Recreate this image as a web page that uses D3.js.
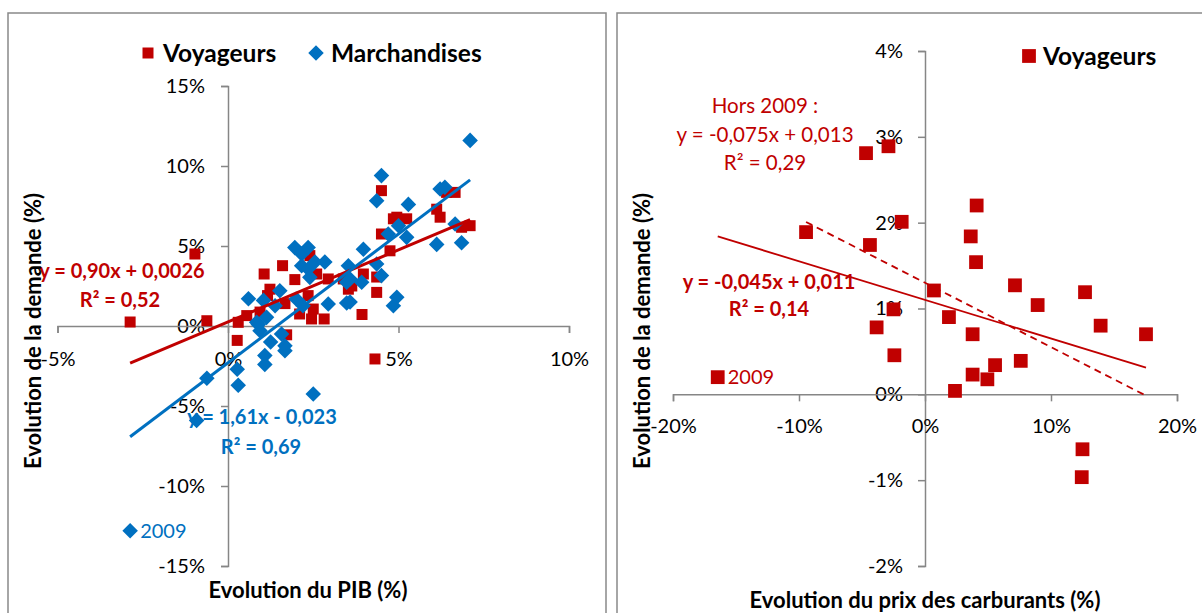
<!DOCTYPE html>
<html><head><meta charset="utf-8">
<script src="https://cdn.jsdelivr.net/npm/d3@7/dist/d3.min.js"></script>
<style>body{margin:0;background:#fff}svg{display:block;font-family:Lato,"Open Sans",sans-serif}</style>
</head><body><svg id="c" width="1202" height="613"></svg>
<script>
// ---- Data (values in %) ----
const pibVoyageurs = [
 [-2.87,0.25],[-0.97,4.5],[-0.62,0.33],[0.27,-0.9],[0.3,0.23],[0.55,0.65],[0.94,0.87],[1.06,3.25],
 [1.16,1.9],[1.23,2.3],[1.6,3.77],[1.67,1.4],[1.72,-0.55],[1.96,2.9],[2.1,0.75],[2.35,1.9],[2.4,4.4],
 [2.45,0.44],[2.5,1.06],[2.6,3.25],[2.82,0.44],[2.94,2.94],[3.38,2.94],[3.53,2.3],[3.63,2.5],[3.93,0.72],
 [3.97,3.25],[4.31,-2.06],[4.36,2.1],[4.36,3.06],[4.5,5.75],[4.5,8.46],[4.75,4.7],[4.85,6.7],[4.95,6.8],
 [5.24,6.7],[6.12,7.3],[6.22,6.8],[6.41,8.35],[6.66,8.35],[6.85,6.17],[7.1,6.27]
];
const pibMarchandises = [
 [-0.92,-5.9],[-0.62,-3.27],[0.27,-2.7],[0.3,-3.7],[0.6,1.7],[0.84,0.23],[0.89,0.1],[0.94,-0.3],
 [1.04,1.6],[1.08,-1.85],[1.08,-2.4],[1.13,0.54],[1.25,-1.0],[1.38,1.27],[1.52,2.2],[1.57,-0.5],
 [1.67,-1.23],[1.67,-1.54],[1.96,4.9],[2.16,4.5],[2.35,4.9],[2.16,3.77],[2.35,3.56],[2.55,4.0],
 [2.4,3.04],[2.84,4.0],[2.0,1.69],[2.2,1.27],[2.5,-4.25],[2.94,1.375],[3.48,1.44],[3.53,3.77],
 [3.58,2.94],[3.48,2.73],[3.92,2.73],[3.97,4.8],[4.36,3.875],[4.5,3.15],[4.36,7.83],[4.5,9.4],
 [4.7,5.75],[4.85,1.27],[4.95,1.8],[5.0,6.27],[5.24,5.54],[5.29,7.6],[6.12,5.1],[6.22,8.56],
 [6.36,8.67],[6.66,6.375],[6.85,5.2],[7.1,11.6],[3.58,1.5]
];
const pibMarchandises2009 = [-2.87,-12.8];
const carbVoyageurs = [
 [-9.44,1.89],[-4.68,2.81],[-4.37,1.74],[-3.84,0.78],[-2.9,2.89],[-2.5,0.99],[-2.43,0.455],[-1.85,2.01],
 [0.71,1.21],[1.9,0.9],[2.38,0.04],[3.63,1.84],[3.78,0.7],[3.78,0.23],[4.05,1.54],[4.1,2.2],[4.95,0.175],
 [5.56,0.34],[7.14,1.27],[7.6,0.39],[8.94,1.04],[12.44,-0.965],[12.5,-0.64],[12.7,1.19],[13.94,0.8],[17.54,0.7]
];
const carbVoyageurs2009 = [-16.45,0.2];
const pibTicksX = [-5,0,5,10];
const pibTicksY = [-15,-10,-5,0,5,10,15];
const carbTicksX = [-20,-10,0,10,20];
const carbTicksY = [-2,-1,0,1,2,3,4];
// trendlines: [slope, intercept] (fractional form, as in the equations)
const trendPibVoy = [0.90, 0.0026];
const trendPibMar = [1.61, -0.023];
const trendCarbAll = [-0.045, 0.011];
const trendCarbHors = [-0.075, 0.013];
const seriesNames = ["Voyageurs","Marchandises"];

const RED = "#C00000", BLUE = "#0070C0", AX = "#868686";
const svg = d3.select("#c");

// panel frames
svg.append("rect").attr("x",8).attr("y",13).attr("width",598).attr("height",620).attr("fill","none").attr("stroke","#898989").attr("stroke-width",1.5);
svg.append("rect").attr("x",617).attr("y",13).attr("width",620).attr("height",620).attr("fill","none").attr("stroke","#898989").attr("stroke-width",1.5);

function styleAxis(g){
  g.select(".domain").attr("stroke",AX).attr("stroke-width",1.5);
  g.selectAll(".tick line").attr("stroke",AX).attr("stroke-width",1.5);
  g.selectAll("text").attr("font-size",20).attr("fill","#000").attr("font-family","Lato");
}
const pct = d => d + "%";
const sq = d3.symbol().type(d3.symbolSquare);

// ===== Left chart =====
const xL = d3.scaleLinear().domain([-5,10]).range([57.5,569]);
const yL = d3.scaleLinear().domain([-15,15]).range([566,86]);
const gL = svg.append("g");
const axYL = gL.append("g").attr("transform",`translate(${xL(0)},0)`)
  .call(d3.axisLeft(yL).tickValues(pibTicksY).tickSize(7).tickPadding(16).tickFormat(pct));
styleAxis(axYL);
const axXL = gL.append("g").attr("transform",`translate(0,${yL(0)})`)
  .call(d3.axisBottom(xL).tickValues(pibTicksX).tickSize(7).tickFormat(pct));
styleAxis(axXL);
axXL.selectAll("text").attr("y",33).attr("dy","0.35em");

// red equation label
gL.append("text").attr("x",122).attr("y",271).attr("dy","0.35em").attr("text-anchor","middle")
  .attr("font-size",20).attr("font-weight","bold").attr("fill",RED).text("y = 0,90x + 0,0026");
gL.append("text").attr("x",120).attr("y",300).attr("dy","0.35em").attr("text-anchor","middle")
  .attr("font-size",20).attr("font-weight","bold").attr("fill",RED).text("R² = 0,52");

gL.append("g").selectAll("path").data(pibVoyageurs).join("path")
  .attr("d",sq.size(121)()).attr("transform",d=>`translate(${xL(d[0])},${yL(d[1])})`).attr("fill",RED);
const marAll = pibMarchandises.concat([pibMarchandises2009]);
gL.append("g").selectAll("path").data(marAll).join("path")
  .attr("d",sq.size(121)()).attr("transform",d=>`translate(${xL(d[0])},${yL(d[1])}) rotate(45)`).attr("fill",BLUE);

function trend(g,xs,ys,data,coef,color,w,dash){
  const ext = d3.extent(data,d=>d[0]);
  const pts = ext.map(x=>[x, coef[0]*x + coef[1]*100]);
  g.append("path").attr("d",d3.line().x(d=>xs(d[0])).y(d=>ys(d[1]))(pts))
    .attr("stroke",color).attr("stroke-width",w).attr("fill","none").attr("stroke-dasharray",dash||null);
}
trend(gL,xL,yL,pibVoyageurs,trendPibVoy,RED,3);
trend(gL,xL,yL,marAll,trendPibMar,BLUE,3);

gL.append("text").attr("x",262).attr("y",417).attr("dy","0.35em").attr("text-anchor","middle")
  .attr("font-size",20).attr("font-weight","bold").attr("fill",BLUE).text("y = 1,61x - 0,023");
gL.append("text").attr("x",261).attr("y",447).attr("dy","0.35em").attr("text-anchor","middle")
  .attr("font-size",20).attr("font-weight","bold").attr("fill",BLUE).text("R² = 0,69");
gL.append("text").attr("x",xL(pibMarchandises2009[0])+10).attr("y",yL(pibMarchandises2009[1])).attr("dy","0.35em")
  .attr("font-size",20).attr("fill",BLUE).text("2009");

// axis titles
gL.append("text").attr("transform","translate(33,331) rotate(-90)").attr("text-anchor","middle").attr("dy","0.35em")
  .attr("font-size",22).attr("font-weight","bold").attr("fill","#000").text("Evolution de la demande (%)");
gL.append("text").attr("x",308).attr("y",590).attr("dy","0.35em").attr("text-anchor","middle")
  .attr("font-size",22).attr("font-weight","bold").attr("fill","#000").text("Evolution du PIB (%)");

// legend
gL.append("path").attr("d",sq.size(121)()).attr("transform","translate(148,53)").attr("fill",RED);
gL.append("text").attr("x",163).attr("y",53).attr("dy","0.35em").attr("font-size",24.5).attr("font-weight","bold").text(seriesNames[0]);
gL.append("path").attr("d",sq.size(121)()).attr("transform","translate(316,53) rotate(45)").attr("fill",BLUE);
gL.append("text").attr("x",331).attr("y",53).attr("dy","0.35em").attr("font-size",24.5).attr("font-weight","bold").text(seriesNames[1]);

// ===== Right chart =====
const xR = d3.scaleLinear().domain([-20,20]).range([673,1177]);
const yR = d3.scaleLinear().domain([-2,4]).range([566,51]);
const gR = svg.append("g");
const axYR = gR.append("g").attr("transform",`translate(${xR(0)},0)`)
  .call(d3.axisLeft(yR).tickValues(carbTicksY).tickSize(7).tickPadding(15).tickFormat(pct));
styleAxis(axYR);
const axXR = gR.append("g").attr("transform",`translate(0,${yR(0)})`)
  .call(d3.axisBottom(xR).tickValues(carbTicksX).tickSize(7).tickFormat(pct));
styleAxis(axXR);
axXR.selectAll("text").attr("y",32).attr("dy","0.35em");

const carbAll = [carbVoyageurs2009].concat(carbVoyageurs);
gR.append("g").selectAll("path").data(carbAll).join("path")
  .attr("d",sq.size(190)()).attr("transform",d=>`translate(${xR(d[0])},${yR(d[1])})`).attr("fill",RED);
trend(gR,xR,yR,carbAll,trendCarbAll,RED,1.8);
trend(gR,xR,yR,carbVoyageurs,trendCarbHors,RED,1.8,"7,5");

gR.append("text").attr("x",xR(carbVoyageurs2009[0])+10).attr("y",yR(carbVoyageurs2009[1])).attr("dy","0.35em")
  .attr("font-size",20).attr("fill",RED).text("2009");

const horsLines = ["Hors 2009 :","y = -0,075x + 0,013","R² = 0,29"];
gR.append("g").selectAll("text").data(horsLines).join("text")
  .attr("x",765).attr("y",(d,i)=>106+i*28.5).attr("dy","0.35em").attr("text-anchor","middle")
  .attr("font-size",20.5).attr("fill",RED).text(d=>d);
gR.append("text").attr("x",769).attr("y",282).attr("dy","0.35em").attr("text-anchor","middle")
  .attr("font-size",20).attr("font-weight","bold").attr("fill",RED).text("y = -0,045x + 0,011");
gR.append("text").attr("x",769).attr("y",309).attr("dy","0.35em").attr("text-anchor","middle")
  .attr("font-size",20).attr("font-weight","bold").attr("fill",RED).text("R² = 0,14");

gR.append("text").attr("transform","translate(642,331) rotate(-90)").attr("text-anchor","middle").attr("dy","0.35em")
  .attr("font-size",22).attr("font-weight","bold").attr("fill","#000").text("Evolution de la demande (%)");
gR.append("text").attr("x",925).attr("y",600).attr("dy","0.35em").attr("text-anchor","middle")
  .attr("font-size",22).attr("font-weight","bold").attr("fill","#000").text("Evolution du prix des carburants (%)");

gR.append("path").attr("d",sq.size(190)()).attr("transform","translate(1029,56)").attr("fill",RED);
gR.append("text").attr("x",1043).attr("y",56).attr("dy","0.35em").attr("font-size",24.5).attr("font-weight","bold").text(seriesNames[0]);
</script></body></html>
